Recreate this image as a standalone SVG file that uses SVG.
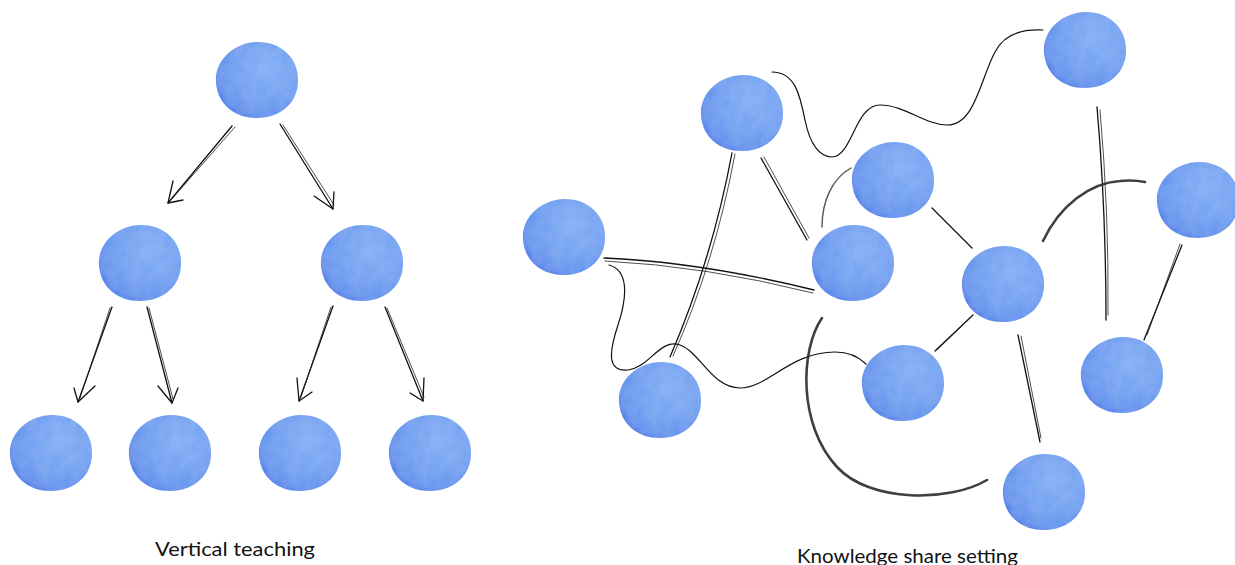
<svg xmlns="http://www.w3.org/2000/svg" xmlns:xlink="http://www.w3.org/1999/xlink" width="1235" height="565" viewBox="0 0 1235 565">
  <style>
    .pen { fill: none; stroke: #111; stroke-width: 1.3; stroke-linecap: round; stroke-linejoin: round; }
    .pen2 { fill: none; stroke: #222; stroke-width: 0.8; stroke-linecap: round; }
    .wave { fill: none; stroke: #111; stroke-width: 1.2; stroke-linecap: round; }
    .arc { fill: none; stroke: #2a2a2a; stroke-width: 2.6; stroke-linecap: round; opacity: 0.9; }
    .thin-arc { fill: none; stroke: #555; stroke-width: 1.4; stroke-linecap: round; }
    .label { font-family: Lato, "Open Sans", "Liberation Sans", sans-serif; font-size: 19px; fill: #111; }
  </style>
  <defs>
    <radialGradient id="blue" cx="62%" cy="38%" r="70%" fx="65%" fy="35%">
      <stop offset="0" stop-color="#7dacf5"/>
      <stop offset="0.55" stop-color="#6b9ef1"/>
      <stop offset="0.85" stop-color="#5b8fed"/>
      <stop offset="1" stop-color="#3f76e8"/>
    </radialGradient>
    <filter id="wc" x="-10%" y="-10%" width="120%" height="120%">
      <feTurbulence type="fractalNoise" baseFrequency="0.09" numOctaves="3" seed="4" result="n"/>
      <feColorMatrix in="n" type="matrix" values="0 0 0 0 1  0 0 0 0 1  0 0 0 0 1  0 0 0 0.12 0" result="w"/>
      <feComposite in="w" in2="SourceGraphic" operator="in" result="wt"/>
      <feMerge><feMergeNode in="SourceGraphic"/><feMergeNode in="wt"/></feMerge>
    </filter>
    <path id="blob" d="M-41,3 C-43,-20 -22,-38 1,-38 C24,-38 41,-22 41,-1 C42,22 24,38 0,38 C-22,38 -39,25 -41,3 Z" fill="url(#blue)" filter="url(#wc)"/>
  </defs>

  <!-- Connectors -->
  <g id="connectors">
    <!-- Vertical teaching arrows -->
    <path class="pen" d="M232,126 L168,203"/><path class="pen2" d="M235,127 L171,200"/>
    <path class="pen" d="M173,181 L168,203 L183,200"/>
    <path class="pen" d="M280,124 L333,209"/><path class="pen2" d="M283,125 L334,205"/>
    <path class="pen" d="M314,196 L333,209 L334,192"/>
    <path class="pen" d="M112,307 L78,402"/><path class="pen2" d="M110,308 L80,398"/>
    <path class="pen" d="M74,388 L78,402 L95,386"/>
    <path class="pen" d="M147,307 L172,403"/><path class="pen2" d="M149,308 L173,399"/>
    <path class="pen" d="M158,386 L172,403 L178,388"/>
    <path class="pen" d="M333,306 L299,401"/><path class="pen2" d="M331,307 L301,397"/>
    <path class="pen" d="M297,378 L299,401 L312,392"/>
    <path class="pen" d="M385,307 L423,401"/><path class="pen2" d="M387,308 L424,397"/>
    <path class="pen" d="M410,393 L423,401 L424,378"/>

    <!-- Knowledge share connectors -->
    <path class="pen" d="M761,158 L807,240"/><path class="pen2" d="M764,157 L809,238"/>
    <path class="pen" d="M732,153 Q712,260 670,357"/><path class="pen2" d="M735,154 Q715,262 673,356"/>
    <path class="pen" d="M604,258 Q700,262 814,290"/><path class="pen2" d="M605,261 Q705,266 813,293"/>
    <path class="wave" d="M609,265 C628,270 628,295 618,325 C608,355 608,372 628,370 C650,367 660,338 680,345 C700,352 712,388 740,388 C768,388 790,352 835,352 C850,352 860,358 866,364"/>
    <path class="wave" d="M772,72 C795,72 800,95 805,120 C810,145 820,157 832,157 C852,157 855,105 880,105 C905,105 925,125 947,125 C975,125 980,80 995,52 C1005,32 1025,29 1043,30"/>
    <path class="thin-arc" d="M851,168 C833,178 822,200 822,227"/>
    <path class="pen" d="M932,208 L972,248"/>
    <path class="pen" d="M973,315 L935,351"/><path class="pen2" d="M971,317 L937,350"/>
    <path class="pen" d="M1018,335 L1040,442"/><path class="pen2" d="M1021,336 L1041,438"/>
    <path class="arc" d="M822,318 C800,350 798,425 837,467 C870,503 950,502 987,480"/>
    <path class="pen" d="M1097,107 Q1106,210 1106,320"/><path class="pen2" d="M1100,110 Q1109,212 1108,315"/>
    <path class="arc" d="M1043,241 C1060,205 1090,183 1120,181 C1130,180 1140,181 1145,182"/>
    <path class="pen" d="M1182,245 L1144,340"/><path class="pen2" d="M1180,244 L1147,335"/>
  </g>

  <!-- Vertical teaching nodes -->
  <g id="vt-root" transform="translate(257,80)"><use href="#blob"/></g>
  <g id="vt-mid-left" transform="translate(140,263)"><use href="#blob"/></g>
  <g id="vt-mid-right" transform="translate(362,263)"><use href="#blob"/></g>
  <g id="vt-leaf-1" transform="translate(51,453)"><use href="#blob"/></g>
  <g id="vt-leaf-2" transform="translate(170,453)"><use href="#blob"/></g>
  <g id="vt-leaf-3" transform="translate(300,453)"><use href="#blob"/></g>
  <g id="vt-leaf-4" transform="translate(430,453)"><use href="#blob"/></g>

  <!-- Knowledge share nodes -->
  <g id="ks-a" transform="translate(742,113)"><use href="#blob"/></g>
  <g id="ks-b" transform="translate(1085,50)"><use href="#blob"/></g>
  <g id="ks-c" transform="translate(893,180)"><use href="#blob"/></g>
  <g id="ks-d" transform="translate(564,237)"><use href="#blob"/></g>
  <g id="ks-e" transform="translate(853,263)"><use href="#blob"/></g>
  <g id="ks-f" transform="translate(1003,284)"><use href="#blob"/></g>
  <g id="ks-g" transform="translate(1198,200)"><use href="#blob"/></g>
  <g id="ks-h" transform="translate(1122,375)"><use href="#blob"/></g>
  <g id="ks-i" transform="translate(903,383)"><use href="#blob"/></g>
  <g id="ks-j" transform="translate(660,400)"><use href="#blob"/></g>
  <g id="ks-k" transform="translate(1044,492)"><use href="#blob"/></g>

  <!-- Labels -->
  <text class="label" x="155" y="556" textLength="160" lengthAdjust="spacingAndGlyphs">Vertical teaching</text>
  <text class="label" x="797" y="563" textLength="221" lengthAdjust="spacingAndGlyphs">Knowledge share setting</text>
</svg>
